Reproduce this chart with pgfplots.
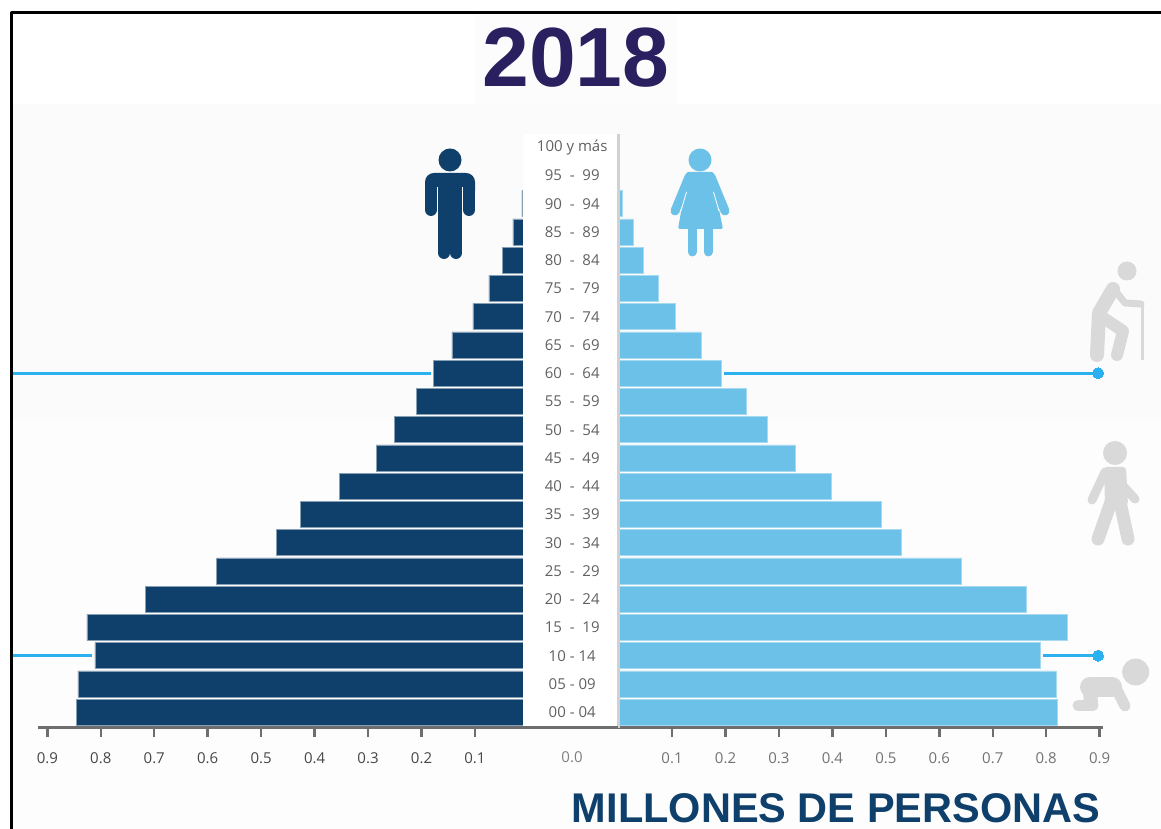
\documentclass[border=0pt]{standalone}
\usepackage{fontspec}
\setmainfont{Open Sans}
\newfontfamily\arialb[BoldFont={Liberation Sans Bold}]{Liberation Sans}
\usepackage{pgfplots}
\usepackage{pgfplotstable}
\pgfplotsset{compat=1.18}
\definecolor{navy}{HTML}{0F3F6B}
\definecolor{sky}{HTML}{6CC1E8}
\definecolor{lineblue}{HTML}{2BB0F0}
\definecolor{titlec}{HTML}{2A2060}
\definecolor{icon}{HTML}{D9D9D9}
\definecolor{axisc}{HTML}{6E6E6E}
\pgfplotstableread{
row hombres mujeres
0 0.846 0.820
1 0.843 0.818
2 0.811 0.788
3 0.826 0.839
4 0.717 0.762
5 0.583 0.642
6 0.472 0.528
7 0.427 0.491
8 0.354 0.397
9 0.285 0.330
10 0.250 0.278
11 0.210 0.238
12 0.177 0.192
13 0.143 0.154
14 0.104 0.106
15 0.074 0.074
16 0.048 0.046
17 0.029 0.027
18 0.012 0.006
}\poptable
\begin{document}
\begin{tikzpicture}[x=1pt,y=1pt]
\useasboundingbox (0,0) rectangle (1161,829);
\begin{scope}[shift={(0,829)},y=-1pt]
  % backgrounds
  \fill[white] (0,0) rectangle (1161,829);
  \fill[black!1.5] (12,104) rectangle (1161,420);
  \fill[black!0.7] (12,420) rectangle (1161,829);
  \fill[black!1.2] (475,15) rectangle (678,104);
\end{scope}
% left pyramid
\begin{axis}[
  at={(38pt,101.3pt)},anchor=south west,
  scale only axis,width=490.4pt,height=593.25pt,
  x dir=reverse,xmin=0,xmax=0.9175,ymin=-0.55,ymax=20.45,
  clip=false,
  axis x line*=bottom,axis y line=none,
  xtick={0.1,0.2,0.3,0.4,0.5,0.6,0.7,0.8,0.9},
  xticklabels={0.1,0.2,0.3,0.4,0.5,0.6,0.7,0.8,0.9},
  tick align=outside,major tick length=9pt,
  x tick style={axisc,line width=2.5pt},
  x axis line style={axisc,line width=3pt},
  xticklabel style={font=\fontsize{15}{17}\selectfont,text=black!72,yshift=-12pt},
]
\addplot[xbar,bar width=26pt,bar shift=0pt,fill=navy,draw=navy!50!white,line width=0.6pt] table[x=hombres,y=row] {\poptable};
\addplot[lineblue,line width=3pt] coordinates {(0.182,12)(0.966,12)};
\addplot[lineblue,line width=3pt] coordinates {(0.8165,2)(0.966,2)};
\end{axis}
\begin{scope}[shift={(0,829)},y=-1pt]
  \fill[white] (523,134) rectangle (618,726.5);
  \draw[axisc,line width=3pt] (527,727.7) -- (620,727.7);
  \node[font=\fontsize{15}{17}\selectfont,text=black!50] at (572,757) {0.0};
\end{scope}
% right pyramid
\begin{axis}[
  at={(618.6pt,101.3pt)},anchor=south west,
  scale only axis,width=484.4pt,height=593.25pt,
  xmin=0,xmax=0.90625,ymin=-0.55,ymax=20.45,
  clip=false,
  axis x line*=bottom,axis y line*=left,
  xtick={0.1,0.2,0.3,0.4,0.5,0.6,0.7,0.8,0.9},
  xticklabels={0.1,0.2,0.3,0.4,0.5,0.6,0.7,0.8,0.9},
  ytick={0,...,20},
  yticklabels={00 - 04,05 - 09,10 - 14,15\ \ -\ \ 19,20\ \ -\ \ 24,25\ \ -\ \ 29,30\ \ -\ \ 34,35\ \ -\ \ 39,40\ \ -\ \ 44,45\ \ -\ \ 49,50\ \ -\ \ 54,55\ \ -\ \ 59,60\ \ -\ \ 64,65\ \ -\ \ 69,70\ \ -\ \ 74,75\ \ -\ \ 79,80\ \ -\ \ 84,85\ \ -\ \ 89,90\ \ -\ \ 94,95\ \ -\ \ 99,100 y más},
  y tick style={draw=none},
  tick align=outside,major tick length=9pt,
  x tick style={axisc,line width=2.5pt},
  x axis line style={axisc,line width=3pt},
  y axis line style={black!18,line width=2pt},
  xticklabel style={font=\fontsize{15}{17}\selectfont,text=black!55,yshift=-12pt},
  yticklabel style={font=\fontsize{15}{17}\selectfont,text=black!62,anchor=center,xshift=-37.4pt},
]
\addplot[xbar,bar width=26pt,bar shift=0pt,fill=sky,draw=sky!60!white,line width=0.6pt] table[x=mujeres,y=row] {\poptable};
\addplot[lineblue,line width=3pt,mark=*,mark size=5.5pt,mark indices={2},mark options={fill=lineblue,draw=lineblue,line width=0pt}] coordinates {(0.197,12)(0.897,12)};
\addplot[lineblue,line width=3pt,mark=*,mark size=5.5pt,mark indices={2},mark options={fill=lineblue,draw=lineblue,line width=0pt}] coordinates {(0.794,2)(0.897,2)};
\end{axis}
\begin{scope}[shift={(0,829)},y=-1pt,line cap=round,line join=round]
  \draw[black!18,line width=3pt,line cap=butt] (618.5,134) -- (618.5,726);
  % man
  \fill[navy] (450,160) circle (11.5);
  \fill[navy,rounded corners=9pt] (425,200) -- (425,173) -- (475,173) -- (475,200) -- cycle;
  \draw[navy,line width=12pt] (431,185) -- (431,210);
  \draw[navy,line width=12pt] (469,185) -- (469,210);
  \fill[navy] (438,180) rectangle (462,225);
  \draw[navy,line width=12pt] (444,222) -- (444,253);
  \draw[navy,line width=12pt] (456,222) -- (456,253);
  \draw[white,line width=0.8pt,line cap=butt] (437.7,187) -- (437.7,215);
  \draw[white,line width=0.8pt,line cap=butt] (462.3,187) -- (462.3,215);
  % woman
  \fill[sky] (700,160) circle (11.5);
  \fill[sky,rounded corners=2pt] (686,172) -- (714,172) -- (716,195) -- (723,229) -- (678,229) -- (684,195) -- cycle;
  \draw[sky,line width=9pt] (689,177) -- (675,211);
  \draw[sky,line width=9pt] (711,177) -- (725,211);
  \draw[white,line width=0.8pt,line cap=butt] (686.5,192) -- (681,211);
  \draw[white,line width=0.8pt,line cap=butt] (713.5,192) -- (719,211);
  \draw[sky,line width=9pt] (692,228) -- (692,252);
  \draw[sky,line width=9pt] (708,228) -- (708,252);
  % old man
  \fill[icon] (1127,271) circle (9.5);
  \draw[icon,line width=14pt] (1113,289) -- (1099,313) -- (1097,355);
  \draw[icon,line width=12pt] (1102,317) -- (1123,331) -- (1117,355);
  \draw[icon,line width=7pt] (1117,293) -- (1125,303) -- (1141,304);
  \draw[icon,line width=3pt,line cap=butt] (1142,304) -- (1142,360);
  % adult
  \fill[icon] (1115,453) circle (12);
  \fill[icon,rounded corners=3pt] (1104,467) -- (1126,467) -- (1128,505) -- (1105,505) -- cycle;
  \draw[icon,line width=13pt] (1111,502) -- (1098,539);
  \draw[icon,line width=13pt] (1120,502) -- (1128,539);
  \draw[icon,line width=9pt] (1105,472) -- (1092,500);
  \draw[icon,line width=9pt] (1124,487) -- (1135,499);
  % baby
  \fill[icon] (1135.7,672) circle (13.5);
  \draw[icon,line width=20pt] (1090,687) -- (1112,687);
  \draw[icon,line width=11pt] (1115,686) -- (1125,706);
  \draw[icon,line width=14pt] (1090,692) -- (1091,703);
  \draw[icon,line width=11pt] (1078,705.5) -- (1093,705.5);
  % titles
  \node[font=\arialb\bfseries\fontsize{84}{90}\selectfont,text=titlec] at (576,58) {2018};
  \node[font=\arialb\bfseries\fontsize{41.5}{46}\selectfont,text=navy] at (836,808) {MILLONES DE PERSONAS};
  % frame
  \draw[black,line width=3pt,line cap=butt] (11,829) -- (11,12.5) -- (1161,12.5);
\end{scope}
\end{tikzpicture}
\end{document}
